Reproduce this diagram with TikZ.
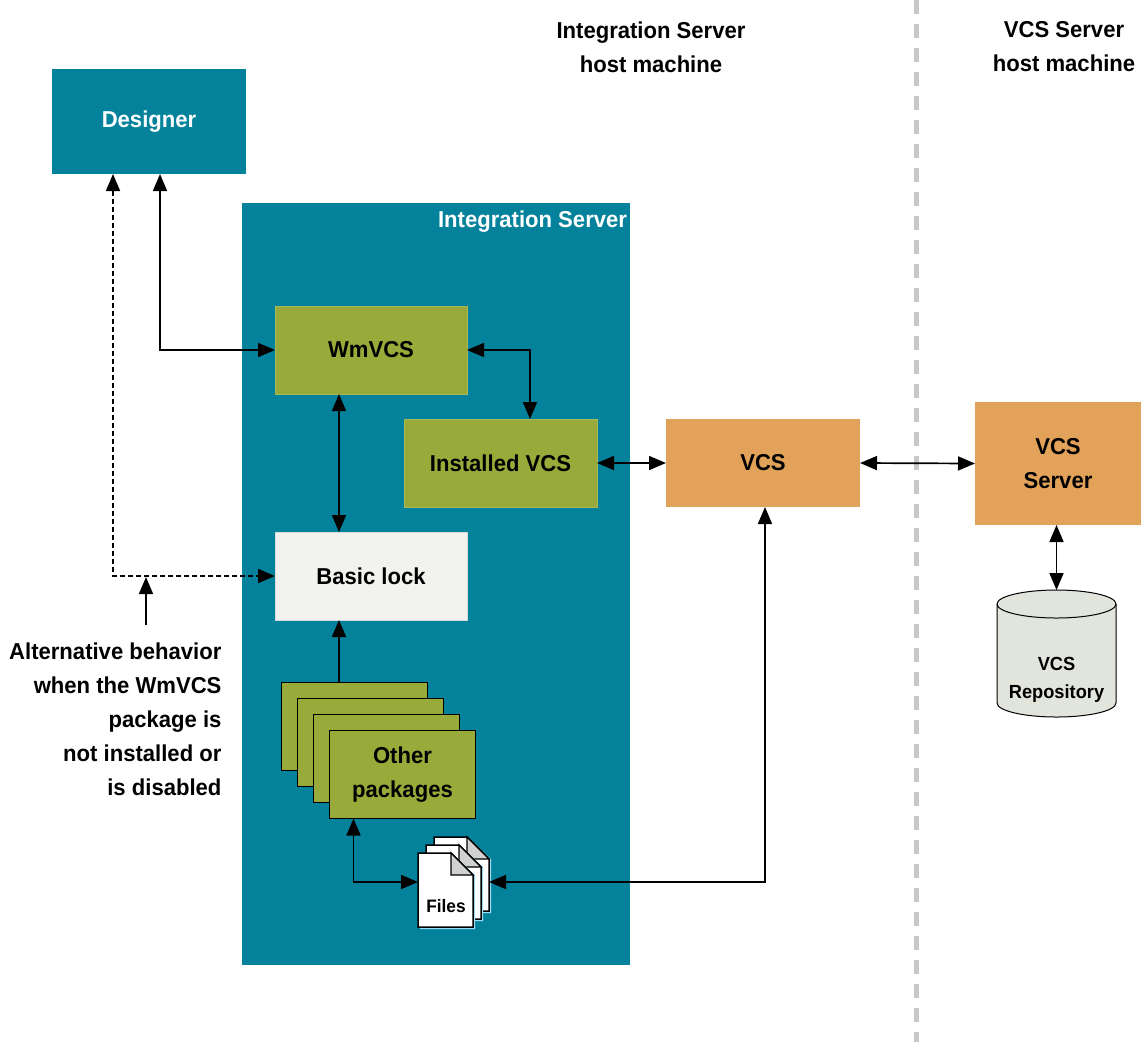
\documentclass[tikz,border=0pt]{standalone}
\usepackage{fontspec}
\setmainfont[FakeStretch=0.96]{Liberation Sans}
\usetikzlibrary{arrows.meta}
\definecolor{teal1}{RGB}{5,130,155}
\definecolor{green1}{RGB}{152,171,58}
\definecolor{orange1}{RGB}{226,162,90}
\definecolor{light1}{RGB}{242,243,238}
\definecolor{cyl1}{RGB}{225,229,220}
\definecolor{sep1}{RGB}{200,200,200}
\tikzset{
  txt/.style={font=\fontsize{23}{34}\selectfont\bfseries},
  box/.style={txt, inner sep=0pt, outer sep=0pt, align=center},
  tealbox/.style={box, fill=teal1, text=white},
  greenbox/.style={box, fill=green1, draw=green1!85!white, line width=0.8pt},
  orangebox/.style={box, fill=orange1},
  pkgbox/.style={box, fill=green1, draw=black, line width=1.6pt, minimum width=146pt, minimum height=88pt},
  doc/.style={inner sep=0pt, outer sep=0pt, minimum width=55pt, minimum height=74pt},
  both/.style={line width=1.7pt, {Triangle[length=17pt,width=14pt]}-{Triangle[length=17pt,width=14pt]}},
  single/.style={line width=1.7pt, -{Triangle[length=17pt,width=14pt]}},
}
\newcommand{\docshape}[1]{%
  \fill[cyan!40!white] ([xshift=2pt,yshift=-2pt]#1.north west) -- ([xshift=-20pt,yshift=-2pt]#1.north east) -- ([xshift=2pt,yshift=-22pt]#1.north east) -- ([xshift=2pt,yshift=-2pt]#1.south east) -- ([xshift=2pt,yshift=-2pt]#1.south west) -- cycle;
  \draw[fill=white, line width=1.5pt] (#1.north west) -- ([xshift=-22pt]#1.north east) -- ([yshift=-22pt]#1.north east) -- (#1.south east) -- (#1.south west) -- cycle;
  \draw[fill=black!18, line width=1.3pt] ([xshift=-22pt]#1.north east) -- ([xshift=-22pt,yshift=-22pt]#1.north east) -- ([yshift=-22pt]#1.north east) -- cycle;
}
\begin{document}
\begin{tikzpicture}[x=1pt,y=-1pt]
\useasboundingbox[fill=white] (0,0) rectangle (1142,1042);

% separator
\draw[sep1, line width=5pt, dash pattern=on 14pt off 10pt] (916,0) -- (916,1042);

% host labels
\node[box] (ishost) at (651,47) {Integration Server\\host machine};
\node[box] (vcshost) at (1064,47) {VCS Server\\host machine};

% Designer
\node[tealbox, minimum width=194pt, minimum height=105pt] (designer) at (149,121.5) {Designer};

% Integration server container
\node[tealbox, minimum width=388pt, minimum height=762pt] (is) at (436,584) {};
\node[box, text=white, anchor=east] (islabel) at (627,222) {Integration Server};

% inner boxes
\node[greenbox, minimum width=192pt, minimum height=88pt] (wmvcs) at (371,350) {WmVCS};
\node[greenbox, minimum width=193pt, minimum height=88pt] (inst) at (500.5,463) {Installed VCS};
\node[box, fill=light1, draw=black!15, line width=0.8pt, minimum width=192pt, minimum height=88pt] (lock) at (371,576) {Basic lock};

% package stack
\node[pkgbox] (pkg1) at (354.5,726.5) {};
\node[pkgbox] (pkg2) at (370.5,742.5) {};
\node[pkgbox] (pkg3) at (386.5,758.5) {};
\node[pkgbox] (pkg) at (402.5,774.5) {Other\\packages};

% files
\node[doc] (files3) at (461.5,874) {};
\node[doc] (files2) at (453.5,882) {};
\node[doc] (files) at (445.5,890) {};
\docshape{files3}
\docshape{files2}
\docshape{files}
\node[box, font=\fontsize{18}{22}\selectfont\bfseries] (fileslabel) at (446,906) {Files};

% VCS
\node[orangebox, minimum width=194pt, minimum height=88pt] (vcs) at (763,463) {VCS};
\node[orangebox, minimum width=166pt, minimum height=123pt] (server) at (1058,463.5) {VCS\\Server};

% repository cylinder
\coordinate (repotop) at (1056.5,590);
\draw[fill=cyl1, line width=1pt] (997,604) -- (997,703) arc[start angle=180, end angle=360, x radius=59.5pt, y radius=14pt] -- (1116,604) arc[start angle=0, end angle=180, x radius=59.5pt, y radius=14pt] -- cycle;
\draw[line width=1pt] (997,604) arc[start angle=180, end angle=360, x radius=59.5pt, y radius=14pt];
\node[box, font=\fontsize{19}{28}\selectfont\bfseries] (repo) at (1056.5,680) {VCS\\Repository};

% connectors
\draw[both] ([xshift=11pt]designer.south) |- (wmvcs.west);
\draw[both, dash pattern=on 5pt off 3pt] ([xshift=-36pt]designer.south) |- (lock.west);
\coordinate (altp) at (146,577);
\coordinate (altstart) at (146,625);
\draw[single] (altstart) -- (altp);
\node[txt, align=right, anchor=east] (note) at (225,719) {Alternative behavior\\when the WmVCS\\package is\\not installed or\\is disabled};

\coordinate (k1) at (530,350);
\draw[both] (wmvcs.east) -- (k1) -- (k1 |- inst.north);
\draw[both] ([xshift=-32pt]wmvcs.south) -- ([xshift=-32pt]lock.north);
\draw[both] (inst.east) -- (vcs.west);
\draw[both] (vcs.east) -- (server.west);
\draw[both] (server.south -| repotop) -- (repotop);
\draw[single] ([xshift=-15.5pt]pkg1.north) -- ([xshift=-15.5pt]pkg1.north |- lock.south);
\draw[both] ([xshift=-49pt]pkg.south) |- ([yshift=8pt]files.west);
\draw[both] ([xshift=2pt]vcs.south) |- ([yshift=-8pt]files3.east);
\end{tikzpicture}
\end{document}
